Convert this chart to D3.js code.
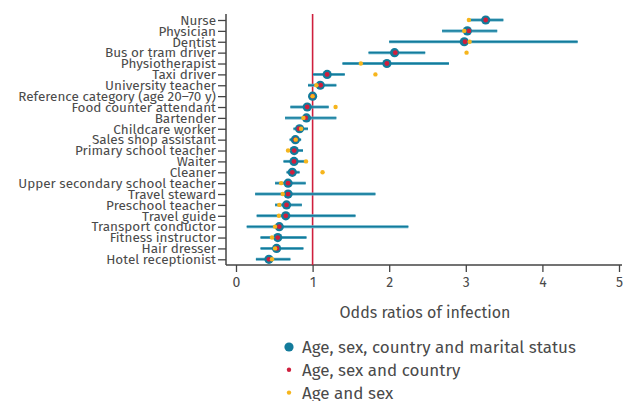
<!DOCTYPE html>
<html>
<head>
<meta charset="utf-8">
<script src="https://cdn.jsdelivr.net/npm/d3@7"></script>
<style>
  body { margin: 0; background: white; }
  text { font-family: "Fira Sans", Lato, "Open Sans", sans-serif; fill: #4a4a4a; }
</style>
</head>
<body>
<div id="chart"></div>
<script>
// occupations, top to bottom
const jobs = ["Nurse", "Physician", "Dentist", "Bus or tram driver", "Physiotherapist", "Taxi driver",
  "University teacher", "Reference category (age 20\u201370 y)", "Food counter attendant", "Bartender",
  "Childcare worker", "Sales shop assistant", "Primary school teacher", "Waiter", "Cleaner",
  "Upper secondary school teacher", "Travel steward", "Preschool teacher", "Travel guide",
  "Transport conductor", "Fitness instructor", "Hair dresser", "Hotel receptionist"]

// full model: age, sex, country and marital status
const orFull = [3.26, 3.02, 2.98, 2.07, 1.97, 1.19, 1.10, 1.00, 0.93, 0.92, 0.83, 0.775, 0.76, 0.757,
  0.735, 0.68, 0.68, 0.66, 0.65, 0.565, 0.545, 0.53, 0.43]
const ciLow = [3.03, 2.69, 2.00, 1.73, 1.39, 1.005, 0.94, 1.00, 0.71, 0.64, 0.75, 0.70, 0.66, 0.62,
  0.66, 0.51, 0.25, 0.51, 0.27, 0.14, 0.32, 0.32, 0.26]
const ciHigh = [3.49, 3.41, 4.46, 2.47, 2.78, 1.42, 1.31, 1.00, 1.21, 1.31, 0.94, 0.85, 0.875, 0.90,
  0.83, 0.91, 1.82, 0.86, 1.56, 2.25, 0.92, 0.88, 0.71]
// age, sex and country
const orCountry = [3.26, 3.04, 2.99, 2.08, 1.97, 1.19, 1.105, 1.00, 0.93, 0.91, 0.82, 0.775, 0.76, 0.757,
  0.735, 0.68, 0.68, 0.66, 0.65, 0.565, 0.545, 0.535, 0.43]
// age and sex
const orAgeSex = [3.04, 2.98, 3.05, 3.01, 1.63, 1.82, 1.05, 1.00, 1.30, 0.88, 0.85, 0.78, 0.68, 0.914,
  1.13, 0.59, 0.61, 0.565, 0.56, 0.51, 0.47, 0.51, 0.47]

const xTicks = [0, 1, 2, 3, 4, 5]
const legendLabels = ["Age, sex, country and marital status", "Age, sex and country", "Age and sex"]

const blue = "#137b9b", blueLight = "#5aaac3", red = "#cf1f3d", yellow = "#f6b51c"
const axisCol = "#444"

let svg = d3.select("#chart").append("svg")
  .attr("width", 629).attr("height", 401)

let x = d3.scaleLinear().domain([0, 5]).range([236, 619])
let y = d3.scalePoint().domain(jobs).range([20, 259.3])

let plotTop = 14, plotBottom = 265, plotLeft = 226

// y axis
let yAx = svg.append("g").attr("transform", `translate(${plotLeft},0)`)
  .call(d3.axisLeft(y).tickSize(8).tickPadding(2).tickSizeOuter(0))
yAx.select(".domain").attr("d", `M0,${plotTop}V${plotBottom}`)
yAx.selectAll("line").attr("stroke", axisCol).attr("stroke-width", 1.3)
yAx.select(".domain").attr("stroke", axisCol).attr("stroke-width", 1.5)
yAx.selectAll("text").style("font-size", "13.5px").attr("fill", "#4a4a4a")

// x axis
let xAx = svg.append("g").attr("transform", `translate(0,${plotBottom})`)
  .call(d3.axisBottom(x).tickValues(xTicks).tickFormat(d3.format("d"))
    .tickSize(7).tickPadding(5).tickSizeOuter(0))
xAx.select(".domain").attr("d", `M${plotLeft},0H622`)
xAx.selectAll("line").attr("stroke", axisCol).attr("stroke-width", 1.3)
xAx.select(".domain").attr("stroke", axisCol).attr("stroke-width", 1.5)
xAx.selectAll("text").style("font-size", "14px").attr("fill", "#4a4a4a")

svg.append("text").attr("x", 425).attr("y", 318).attr("text-anchor", "middle")
  .style("font-size", "16px").text("Odds ratios of infection")

// reference line at OR = 1
svg.append("line")
  .attr("x1", x(1)).attr("x2", x(1)).attr("y1", plotTop).attr("y2", plotBottom)
  .attr("stroke", red).attr("stroke-width", 1.6)

let rows = jobs.map((d, i) => ({ job: d, full: orFull[i], lo: ciLow[i], hi: ciHigh[i], ctry: orCountry[i], as: orAgeSex[i] }))

let g = svg.append("g")
g.selectAll(".ciw").data(rows).enter().append("line")
  .attr("x1", d => x(d.lo)).attr("x2", d => x(d.hi))
  .attr("y1", d => y(d.job)).attr("y2", d => y(d.job))
  .attr("stroke", blueLight).attr("stroke-width", 3)
g.selectAll(".ci").data(rows).enter().append("line")
  .attr("x1", d => x(d.lo)).attr("x2", d => x(d.hi))
  .attr("y1", d => y(d.job)).attr("y2", d => y(d.job))
  .attr("stroke", blue).attr("stroke-width", 1.4)
g.selectAll(".full").data(rows).enter().append("circle")
  .attr("cx", d => x(d.full)).attr("cy", d => y(d.job)).attr("r", 4.6).attr("fill", blue)
g.selectAll(".ctry").data(rows).enter().append("circle")
  .attr("cx", d => x(d.ctry)).attr("cy", d => y(d.job)).attr("r", 2.4).attr("fill", red)
g.selectAll(".as").data(rows).enter().append("circle")
  .attr("cx", d => x(d.as)).attr("cy", d => y(d.job)).attr("r", 2.2).attr("fill", yellow)

// legend
let leg = svg.append("g")
let legCols = [blue, red, yellow], legR = [4.6, 2.2, 2.2]
legendLabels.forEach((t, i) => {
  let ly = 347 + i * 22.8
  leg.append("circle").attr("cx", 289).attr("cy", ly).attr("r", legR[i]).attr("fill", legCols[i])
  leg.append("text").attr("x", 302).attr("y", ly).attr("dy", "0.35em")
    .style("font-size", "17px").text(t)
})
</script>
</body>
</html>
